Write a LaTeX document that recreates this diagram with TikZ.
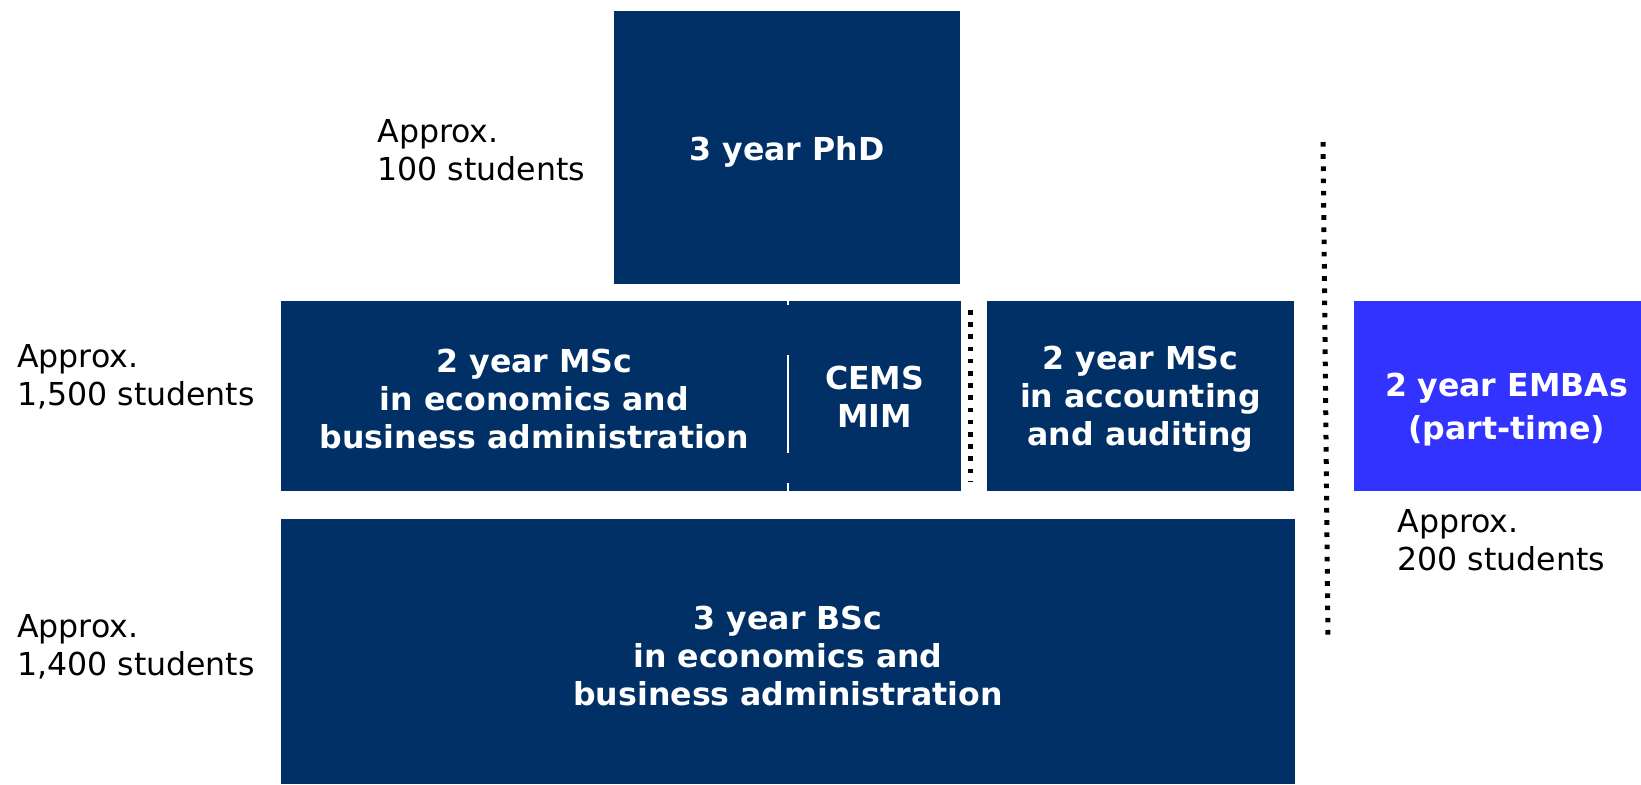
\documentclass[tikz,border=0pt]{standalone}
\usepackage{fontspec}
\setmainfont{DejaVu Sans}
\definecolor{navy}{RGB}{0,48,102}
\definecolor{embablue}{RGB}{51,51,255}
\begin{document}
\begin{tikzpicture}[x=0.5pt,y=-0.5pt,
  box/.style={fill=navy, draw=none, inner sep=0pt},
  txt/.style={inner sep=0pt, text=white,
    font=\bfseries\fontsize{15.8}{19}\selectfont, align=center},
  lbl/.style={inner sep=0pt, anchor=west, align=left,
    font=\fontsize{15.8}{19}\selectfont},
  dotline/.style={line width=2.5pt, dash pattern=on 2.3pt off 3.8pt},
  divider/.style={white, line width=1pt}]
\useasboundingbox (0,0) rectangle (1641,784);
% boxes
\node[box, minimum width=173pt, minimum height=136.5pt,
  label={[txt, yshift=-2pt]center:3 year PhD}] (phd) at (787,147.5) {};
\node[box, minimum width=253.5pt, minimum height=95pt,
  label={[txt, yshift=-1.3pt]center:{2 year MSc\\in economics and\\business administration}}]
  (mscecon) at (534.5,396) {};
\node[box, minimum width=86.5pt, minimum height=95pt,
  label={[txt, yshift=-0.6pt]center:{CEMS\\MIM}}] (cems) at (874.5,396) {};
\node[box, minimum width=153.5pt, minimum height=95pt,
  label={[txt, yshift=-1.8pt]center:{2 year MSc\\in accounting\\and auditing}}]
  (mscacc) at (1140.5,396) {};
\node[box, fill=embablue, minimum width=143.5pt, minimum height=95pt,
  label={[txt, font=\bfseries\fontsize{15.8}{21.5}\selectfont, yshift=-6.8pt, xshift=4.5pt]center:{2\,\,year EMBAs\\(part-time)}}]
  (emba) at (1497.5,396) {};
\node[box, minimum width=507pt, minimum height=132.5pt,
  label={[txt, yshift=-2.3pt]center:{3 year BSc\\in economics and\\business administration}}]
  (bsc) at (788,651.5) {};
% white divider between MSc and CEMS
\draw[divider] (mscecon.north east) -- ++(0,4);
\draw[divider] ([yshift=-27pt]mscecon.north east) -- ([yshift=-76pt]mscecon.north east);
\draw[divider] ([yshift=4pt]mscecon.south east) -- (mscecon.south east);
% labels
\node[lbl] (lphd) at (377,150) {Approx.\\100 students};
\node[lbl] (lmsc) at (16.7,377) {Approx.\\1,500 students};
\node[lbl] (lbsc) at (16.7,647) {Approx.\\1,400 students};
\node[lbl] (lemba) at (1397,540) {Approx.\\200 students};
% dotted separators
\coordinate (s1) at (970,310);
\coordinate (s2) at (970,481);
\coordinate (b1) at (1323,142);
\coordinate (b2) at (1328,638);
\draw[dotline] (s1) -- (s2);
\draw[dotline] (b1) -- (b2);
\end{tikzpicture}
\end{document}
